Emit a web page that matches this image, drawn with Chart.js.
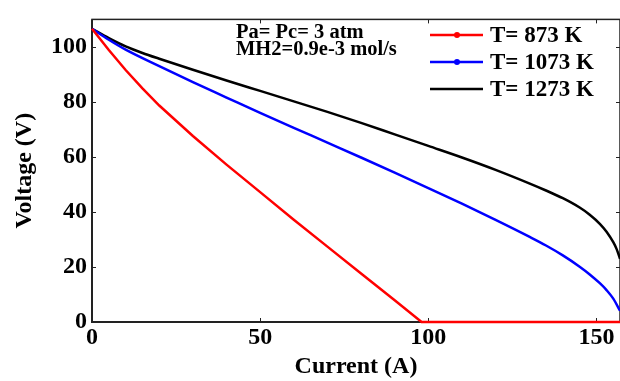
<!DOCTYPE html>
<html>
<head>
<meta charset="utf-8">
<script src="https://cdn.jsdelivr.net/npm/chart.js@4.4.1/dist/chart.umd.min.js"></script>
<style>
  html, body { margin: 0; padding: 0; background: #fff; }
  #wrap { width: 620px; height: 381px; }
</style>
</head>
<body>
<div id="wrap"><canvas id="ivChart" width="620" height="381"></canvas></div>
<script>
// values
const currentRed = [0, 5, 10, 15, 20, 30, 40, 50, 60, 70, 80, 90, 98, 157];
const voltageRed = [106.6, 98.9, 91.6, 84.9, 78.7, 67.6, 57.2, 47.2, 37.2, 27.4, 17.6, 7.9, 0, 0];

const currentBlue = [0, 5, 10, 20, 30, 40, 50, 60, 70, 80, 90, 100, 110, 120, 130, 135, 140, 145, 148, 151, 153, 155, 157];
const voltageBlue = [106.6, 102.6, 99, 93, 87.2, 81.6, 76, 70.6, 65.2, 59.8, 54.3, 48.7, 43, 37.1, 31, 27.8, 24.2, 20.1, 17.3, 14.1, 11.6, 8.5, 4.1];

const currentBlack = [0, 5, 10, 15, 20, 30, 40, 50, 60, 70, 80, 90, 100, 110, 120, 130, 135, 140, 145, 148, 151, 153, 155, 156, 157];
const voltageBlack = [106.6, 103.2, 100.2, 97.8, 95.7, 91.7, 87.8, 84, 80.2, 76.4, 72.4, 68.2, 64, 59.8, 55.3, 50.4, 47.8, 45, 41.6, 39, 35.7, 32.8, 29, 26.5, 23];

const seriesLabels = ["T= 873 K", "T= 1073 K", "T= 1273 K"];
const xTicks = [0, 50, 100, 150];
const yTicks = [0, 20, 40, 60, 80, 100];
const noteLines = ["Pa= Pc= 3 atm", "MH2=0.9e-3 mol/s"];

const FONT = '"Liberation Serif", "Times New Roman", serif';

function toPoints(xs, ys) {
  return xs.map((x, i) => ({ x: x, y: ys[i] }));
}

// box + inward ticks (matlab style)
const boxPlugin = {
  id: "box",
  beforeDatasetsDraw(chart) {
    const { ctx, chartArea: a, scales } = chart;
    ctx.save();
    ctx.strokeStyle = "#222";
    ctx.lineWidth = 1.5;
    ctx.strokeRect(a.left, a.top, a.right - a.left, a.bottom - a.top);
    ctx.lineWidth = 2;
    ctx.beginPath();
    ctx.moveTo(a.left, a.top);
    ctx.lineTo(a.left, a.bottom);
    ctx.lineTo(a.right, a.bottom);
    ctx.stroke();
    ctx.lineWidth = 1;
    scales.x.ticks.forEach((t) => {
      const px = Math.round(scales.x.getPixelForValue(t.value)) + 0.5;
      ctx.beginPath();
      ctx.moveTo(px, a.bottom);
      ctx.lineTo(px, a.bottom - 4);
      ctx.moveTo(px, a.top);
      ctx.lineTo(px, a.top + 4);
      ctx.stroke();
    });
    scales.y.ticks.forEach((t) => {
      const py = Math.round(scales.y.getPixelForValue(t.value)) + 0.5;
      ctx.beginPath();
      ctx.moveTo(a.left, py);
      ctx.lineTo(a.left + 4, py);
      ctx.moveTo(a.right, py);
      ctx.lineTo(a.right - 4, py);
      ctx.stroke();
    });
    ctx.restore();
  },
  afterDraw(chart) {
    const ctx = chart.ctx;
    ctx.save();
    // note text
    ctx.fillStyle = "#000";
    ctx.font = "bold 20.5px " + FONT;
    ctx.textBaseline = "alphabetic";
    ctx.fillText(noteLines[0], 236, 38);
    ctx.fillText(noteLines[1], 236, 55);
    // legend
    ctx.font = "bold 23px " + FONT;
    ctx.textBaseline = "middle";
    chart.data.datasets.forEach((ds, i) => {
      const y = 35 + i * 27;
      ctx.strokeStyle = ds.borderColor;
      ctx.lineWidth = 2.5;
      ctx.beginPath();
      ctx.moveTo(430, y);
      ctx.lineTo(483, y);
      ctx.stroke();
      if (ds.legendDot) {
        ctx.fillStyle = ds.borderColor;
        ctx.beginPath();
        ctx.arc(457, y, 3, 0, Math.PI * 2);
        ctx.fill();
      }
      ctx.fillStyle = "#000";
      ctx.fillText(ds.label, 490, y + 1);
    });
    ctx.restore();
  },
};

const lineStyle = {
  borderWidth: 2.5,
  pointRadius: 0,
  fill: false,
  clip: false,
};

new Chart(document.getElementById("ivChart").getContext("2d"), {
  type: "line",
  data: {
    datasets: [
      { label: seriesLabels[0], data: toPoints(currentRed, voltageRed), borderColor: "#ff0000", legendDot: true, tension: 0, ...lineStyle },
      { label: seriesLabels[1], data: toPoints(currentBlue, voltageBlue), borderColor: "#0000ff", legendDot: true, cubicInterpolationMode: "monotone", ...lineStyle },
      { label: seriesLabels[2], data: toPoints(currentBlack, voltageBlack), borderColor: "#000000", legendDot: false, cubicInterpolationMode: "monotone", ...lineStyle },
    ],
  },
  options: {
    responsive: false,
    animation: false,
    layout: { padding: { top: 7, right: 0, left: 0, bottom: 0 } },
    plugins: {
      legend: { display: false },
      tooltip: { enabled: false },
    },
    scales: {
      x: {
        type: "linear",
        min: 0,
        max: 157,
        grid: { display: false, drawTicks: false },
        border: { display: false },
        afterBuildTicks: (s) => { s.ticks = xTicks.map((v) => ({ value: v })); },
        afterFit: (s) => { s.height = 59; },
        ticks: {
          padding: 1,
          color: "#000",
          maxRotation: 0,
          font: { family: FONT, size: 24, weight: "bold" },
        },
        title: {
          display: true,
          text: "Current (A)",
          color: "#000",
          padding: { top: 0, bottom: 0 },
          font: { family: FONT, size: 24, weight: "bold" },
        },
      },
      y: {
        min: 0,
        max: 110,
        grid: { display: false, drawTicks: false },
        border: { display: false },
        afterBuildTicks: (s) => { s.ticks = yTicks.map((v) => ({ value: v })); },
        afterFit: (s) => { s.width = 92; },
        ticks: {
          padding: 5,
          color: "#000",
          font: { family: FONT, size: 24, weight: "bold" },
        },
        title: {
          display: true,
          text: "Voltage (V)",
          color: "#000",
          padding: { top: 10, bottom: 0 },
          font: { family: FONT, size: 24, weight: "bold" },
        },
      },
    },
  },
  plugins: [boxPlugin],
});
</script>
</body>
</html>
